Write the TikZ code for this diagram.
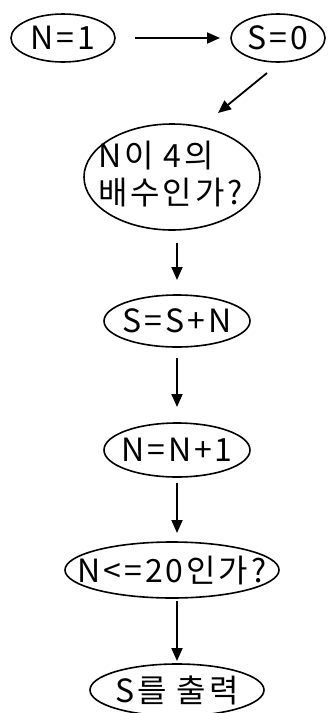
\documentclass[tikz,border=0pt]{standalone}
\usepackage{fontspec}
\setmainfont{Noto Sans CJK KR}[LetterSpace=9]
\usetikzlibrary{arrows.meta,shapes.geometric}
\tikzset{
  oval/.style={draw, ellipse, line width=1.6pt, inner sep=0pt, outer sep=0pt},
  txt/.style={font=\fontsize{32}{37}\selectfont, inner sep=0pt, align=left},
  arr/.style={line width=1.8pt, -{Triangle[length=13pt,width=11pt]}}
}
\begin{document}
\begin{tikzpicture}[x=1pt,y=-1pt]
\useasboundingbox (0,0) rectangle (328,713);
\node[oval, minimum width=104pt, minimum height=48pt, label={[txt]center:N=1}] (n1) at (63,38) {};
\node[oval, minimum width=94pt, minimum height=48pt, label={[txt]center:S=0}] (s0) at (278,38) {};
\node[oval, minimum width=176pt, minimum height=106pt] (d) at (172,177) {};
\node[txt, anchor=north west] (dt) at (98,141) {N이 4의\\배수인가?};
\node[oval, minimum width=146pt, minimum height=52pt, label={[txt]center:S=S+N}] (a) at (177,321) {};
\node[oval, minimum width=146pt, minimum height=54pt, label={[txt]center:N=N+1}] (b) at (177,450) {};
\node[oval, minimum width=214pt, minimum height=56pt, label={[txt]center:N<=20인가?}] (c) at (172,570) {};
\node[oval, minimum width=174pt, minimum height=52pt, label={[txt]center:S를 출력}] (e) at (177,690) {};
\coordinate (p1) at (267,73);
\coordinate (p2) at (218,113);
\draw[arr, shorten <=20pt, shorten >=11pt] (n1.east) -- (s0.west);
\draw[arr] (p1) -- (p2);
\draw[arr, shorten <=13pt, shorten >=15pt] (d.south -| a.north) -- (a.north);
\draw[arr, shorten <=11pt, shorten >=16pt] (a.south) -- (b.north);
\draw[arr, shorten <=6pt, shorten >=9pt] (b.south) -- (c.north -| b.south);
\draw[arr, shorten <=3pt, shorten >=3pt] (c.south -| e.north) -- (e.north);
\end{tikzpicture}
\end{document}
